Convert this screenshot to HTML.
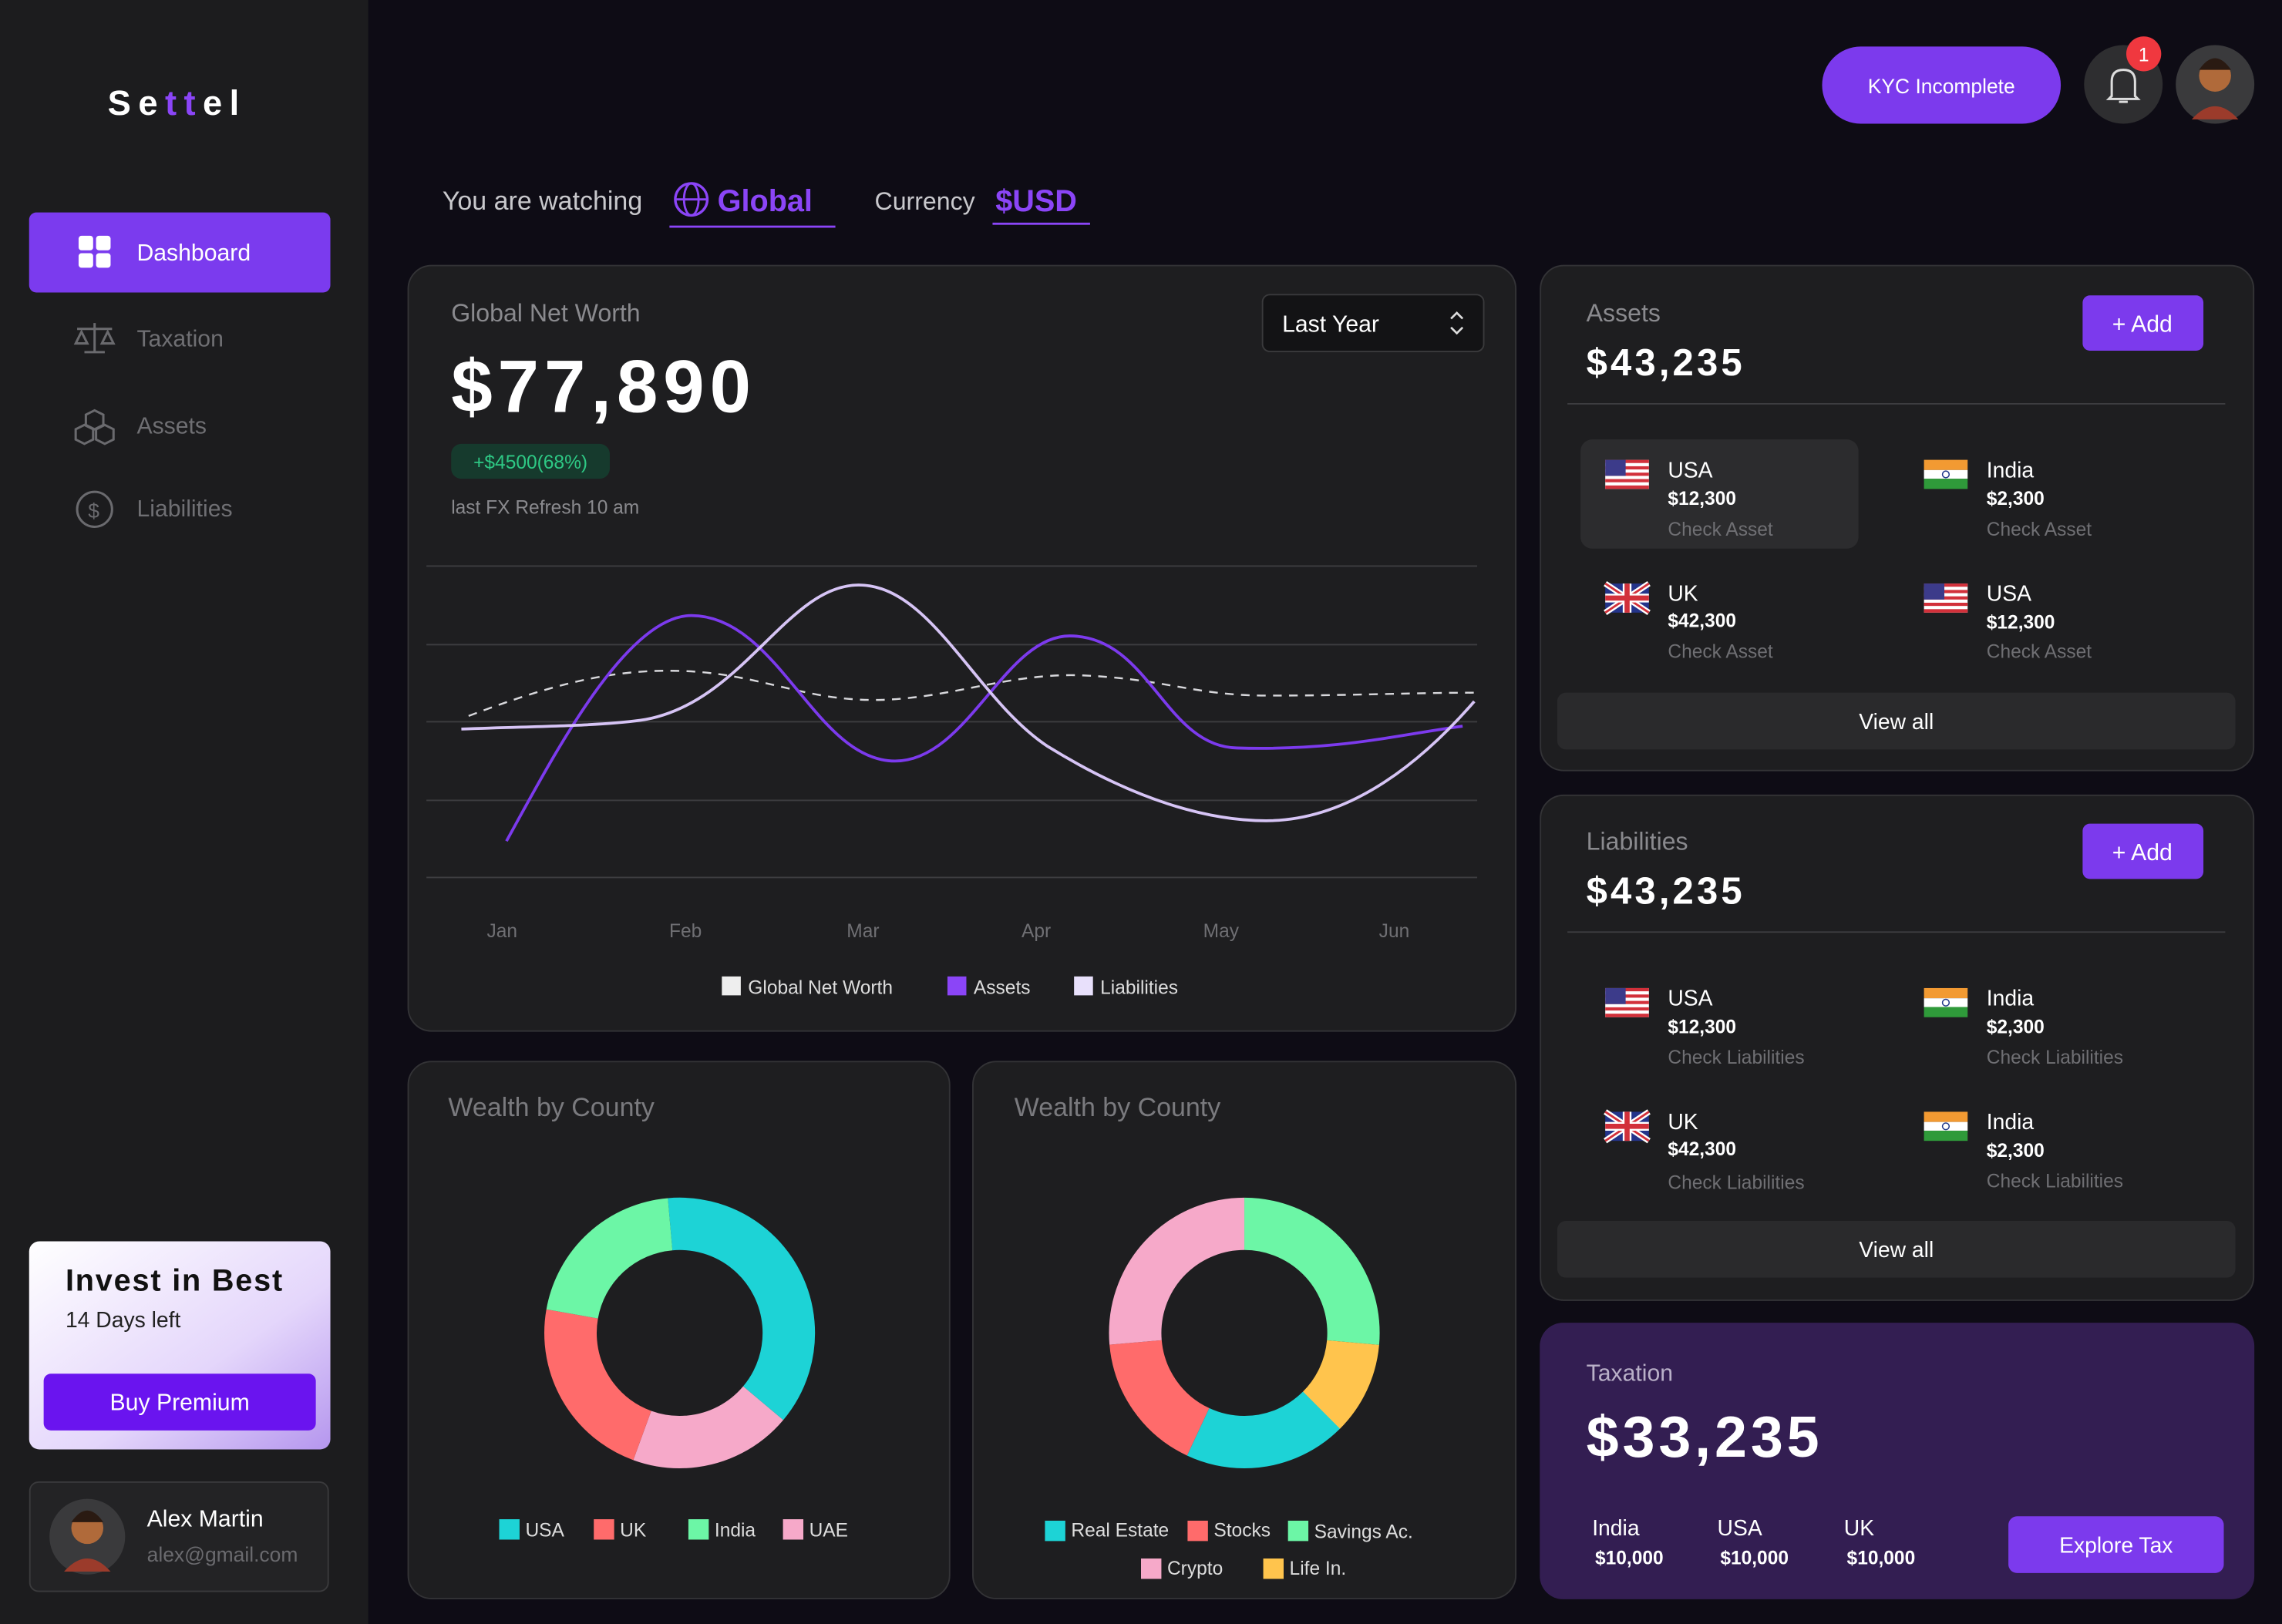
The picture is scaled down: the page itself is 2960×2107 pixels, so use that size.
<!DOCTYPE html>
<html><head><meta charset="utf-8"><style>
html,body{margin:0;padding:0;background:#0e0c15;}
svg{display:block;}
text{font-family:"Liberation Sans",sans-serif;}
</style></head><body>
<svg width="2960" height="2107" viewBox="0 0 1568 1116" preserveAspectRatio="none" xmlns="http://www.w3.org/2000/svg">
<defs>
<linearGradient id="inv" x1="0" y1="0" x2="1" y2="1"><stop offset="0" stop-color="#ffffff"/><stop offset="0.6" stop-color="#e4d6fb"/><stop offset="1" stop-color="#b596ee"/></linearGradient>
<g id="us"><rect width="30" height="20" fill="#fff"/><rect y="0" width="30" height="2.2" fill="#d2303a"/><rect y="4.4" width="30" height="2.2" fill="#d2303a"/><rect y="8.8" width="30" height="2.2" fill="#d2303a"/><rect y="13.2" width="30" height="2.2" fill="#d2303a"/><rect y="17.6" width="30" height="2.4" fill="#d2303a"/><rect width="14" height="11" fill="#3c3b8a"/></g>
<g id="in"><rect width="30" height="7" fill="#f29a32"/><rect y="7" width="30" height="6" fill="#fff"/><rect y="13" width="30" height="7" fill="#2f9a3a"/><circle cx="15" cy="10" r="2.3" fill="none" stroke="#233a8a" stroke-width="0.8"/></g>
<g id="uk"><rect width="30" height="20" fill="#24348a"/><path d="M0 0L30 20M30 0L0 20" stroke="#fff" stroke-width="4"/><path d="M0 0L30 20M30 0L0 20" stroke="#d2303a" stroke-width="1.5"/><path d="M15 0V20M0 10H30" stroke="#fff" stroke-width="6"/><path d="M15 0V20M0 10H30" stroke="#d2303a" stroke-width="3.5"/></g>
</defs>
<rect width="1568" height="1116" fill="#0e0c15"/>
<!-- sidebar -->
<rect width="253" height="1116" fill="#1c1c1e"/>
<text x="74" y="79" font-size="24" font-weight="bold" fill="#fff" letter-spacing="5">Se<tspan fill="#8b45f7">tt</tspan>el</text>
<rect x="20" y="146" width="207" height="55" rx="5" fill="#7b3bee"/>
<rect x="54" y="162" width="10" height="10" rx="2" fill="#fff"/><rect x="66" y="162" width="10" height="10" rx="2" fill="#fff"/><rect x="54" y="174" width="10" height="10" rx="2" fill="#fff"/><rect x="66" y="174" width="10" height="10" rx="2" fill="#fff"/>
<text x="94" y="179" font-size="16" fill="#fff">Dashboard</text>
<g fill="none" stroke="#6a6a6e" stroke-width="1.6">
<path d="M53 226H77M65 222V242M58 242H72M56 228L52 236H60ZM74 228L70 236H78Z"/>
<path d="M65 282L71 285V292L65 295L59 292V285ZM58 292L64 295V302L58 305L52 302V295ZM72 292L78 295V302L72 305L66 302V295Z"/>
<circle cx="65" cy="350" r="12"/>
</g>
<text x="60.5" y="356" font-size="14" fill="#6a6a6e">$</text>
<text x="94" y="238" font-size="16" fill="#6f6f73">Taxation</text>
<text x="94" y="298" font-size="16" fill="#6f6f73">Assets</text>
<text x="94" y="355" font-size="16" fill="#6f6f73">Liabilities</text>
<rect x="20" y="853" width="207" height="143" rx="7" fill="url(#inv)"/>
<text x="45" y="887" font-size="21" font-weight="bold" fill="#111" textLength="149">Invest in Best</text>
<text x="45" y="912" font-size="15" fill="#222">14 Days left</text>
<rect x="30" y="944" width="187" height="39" rx="5" fill="#6a14ef"/>
<text x="123.5" y="969" font-size="16" fill="#fff" text-anchor="middle">Buy Premium</text>
<rect x="20.5" y="1018.5" width="205" height="75" rx="6" fill="#232325" stroke="#3a3a3c"/>
<circle cx="60" cy="1056" r="26" fill="#3a3a3c"/><circle cx="60" cy="1050" r="11" fill="#b06a3a"/><path d="M49 1046Q60 1030 71 1046Z" fill="#2a1a12"/><path d="M44 1080Q60 1062 76 1080Z" fill="#9b3b2b"/>
<text x="101" y="1049" font-size="16" fill="#fff">Alex Martin</text>
<text x="101" y="1073" font-size="14" fill="#6a6a6e">alex@gmail.com</text>
<!-- top -->
<rect x="1252" y="32" width="164" height="53" rx="26.5" fill="#7c3aed"/>
<text x="1334" y="64" font-size="14" fill="#fff" text-anchor="middle">KYC Incomplete</text>
<circle cx="1459" cy="58" r="27" fill="#2e2e30"/>
<path d="M1451 66V56Q1451 48 1459 48Q1467 48 1467 56V66L1469 68H1449ZM1456 70H1462" fill="none" stroke="#ddd" stroke-width="1.6"/>
<circle cx="1473" cy="37" r="12" fill="#f0383f"/><text x="1473" y="42" font-size="13" fill="#fff" text-anchor="middle">1</text>
<circle cx="1522" cy="58" r="27" fill="#3a3a3c"/><circle cx="1522" cy="52" r="11" fill="#b06a3a"/><path d="M1511 48Q1522 32 1533 48Z" fill="#2a1a12"/><path d="M1506 82Q1522 64 1538 82Z" fill="#9b3b2b"/>
<text x="304" y="144" font-size="18" fill="#c8c8cc">You are watching</text>
<circle cx="475" cy="137" r="11" fill="none" stroke="#8b45f7" stroke-width="1.8"/><ellipse cx="475" cy="137" rx="5" ry="11" fill="none" stroke="#8b45f7" stroke-width="1.5"/><path d="M464 137H486" stroke="#8b45f7" stroke-width="1.5"/>
<text x="493" y="145" font-size="21" font-weight="bold" fill="#8b45f7">Global</text>
<rect x="460" y="155" width="114" height="1.5" fill="#8b45f7"/>
<text x="601" y="144" font-size="17" fill="#c8c8cc">Currency</text>
<text x="684" y="145" font-size="21" font-weight="bold" fill="#8b45f7">$USD</text>
<rect x="682" y="153" width="67" height="1.5" fill="#8b45f7"/>
<!-- main chart card -->
<rect x="280.5" y="182.5" width="761" height="526" rx="16" fill="#1e1e20" stroke="#333336"/>
<text x="310" y="221" font-size="17" fill="#8a8a8e">Global Net Worth</text>
<text x="310" y="283" font-size="51" font-weight="bold" fill="#fff" textLength="206">$77,890</text>
<rect x="310" y="305" width="109" height="24" rx="7" fill="#163a2d"/>
<text x="364.5" y="322" font-size="13" fill="#2ec985" text-anchor="middle">+$4500(68%)</text>
<text x="310" y="353" font-size="13" fill="#8a8a8e">last FX Refresh 10 am</text>
<rect x="867.5" y="202.5" width="152" height="39" rx="5" fill="#131315" stroke="#3a3a3c"/>
<text x="881" y="228" font-size="16" fill="#fff">Last Year</text>
<path d="M997 219L1001 215L1005 219M997 225L1001 229L1005 225" fill="none" stroke="#ddd" stroke-width="1.4"/>
<g stroke="#3d3d40" stroke-width="1"><path d="M293 389H1015M293 443H1015M293 496H1015M293 550H1015M293 603H1015"/></g>
<g font-size="13" fill="#6f6f73" text-anchor="middle"><text x="345" y="644">Jan</text><text x="471" y="644">Feb</text><text x="593" y="644">Mar</text><text x="712" y="644">Apr</text><text x="839" y="644">May</text><text x="958" y="644">Jun</text></g>
<path d="M322 492C380 470 420 460 465 461C520 462 550 481 600 481C650 481 690 463 740 464C800 466 820 478 870 478C930 478 970 476 1015 476" fill="none" stroke="#d8d8dc" stroke-width="1.3" stroke-dasharray="6 5"/>
<path d="M348 578C380 520 430 423 475 423C535 423 560 523 615 523C665 523 690 437 735 437C790 437 800 513 850 514C920 516 960 505 1005 499" fill="none" stroke="#7c3aed" stroke-width="2"/>
<path d="M317 501C370 499 410 499 440 495C510 485 540 402 590 402C640 402 670 480 720 513C780 550 830 564 870 564C930 564 980 520 1013 482" fill="none" stroke="#d6c4f5" stroke-width="2"/>
<rect x="496" y="671" width="13" height="13" fill="#eee"/><text x="514" y="683" font-size="13" fill="#ddd">Global Net Worth</text>
<rect x="651" y="671" width="13" height="13" fill="#8b45f7"/><text x="669" y="683" font-size="13" fill="#ddd">Assets</text>
<rect x="738" y="671" width="13" height="13" fill="#e8e0fb"/><text x="756" y="683" font-size="13" fill="#ddd">Liabilities</text>
<!-- donut cards -->
<rect x="280.5" y="729.5" width="372" height="369" rx="16" fill="#1e1e20" stroke="#333336"/>
<rect x="668.5" y="729.5" width="373" height="369" rx="16" fill="#1e1e20" stroke="#333336"/>
<text x="308" y="767" font-size="18" fill="#7a7a7e">Wealth by County</text>
<text x="697" y="767" font-size="18" fill="#7a7a7e">Wealth by County</text>
<g transform="rotate(-95 467 916)" fill="none" stroke-width="36">
<circle cx="467" cy="916" r="75" stroke="#1dd3d6" stroke-dasharray="176.7 500"/>
<circle cx="467" cy="916" r="75" stroke="#f6a9c9" stroke-dasharray="91.6 500" stroke-dashoffset="-176.7"/>
<circle cx="467" cy="916" r="75" stroke="#ff6b6b" stroke-dasharray="104.7 500" stroke-dashoffset="-268.3"/>
<circle cx="467" cy="916" r="75" stroke="#6cf6a6" stroke-dasharray="98.3 500" stroke-dashoffset="-373"/>
</g>
<g transform="rotate(-90 855 916)" fill="none" stroke-width="36">
<circle cx="855" cy="916" r="75" stroke="#6cf6a6" stroke-dasharray="124.4 500" stroke-dashoffset="0"/>
<circle cx="855" cy="916" r="75" stroke="#ffc44d" stroke-dasharray="52.4 500" stroke-dashoffset="-124.4"/>
<circle cx="855" cy="916" r="75" stroke="#1dd3d6" stroke-dasharray="91.6 500" stroke-dashoffset="-176.7"/>
<circle cx="855" cy="916" r="75" stroke="#ff6b6b" stroke-dasharray="78.5 500" stroke-dashoffset="-268.3"/>
<circle cx="855" cy="916" r="75" stroke="#f6a9c9" stroke-dasharray="124.5 500" stroke-dashoffset="-346.8"/>
</g>
<g font-size="13" fill="#ddd">
<rect x="343" y="1044" width="14" height="14" fill="#1dd3d6"/><text x="361" y="1056">USA</text>
<rect x="408" y="1044" width="14" height="14" fill="#ff6b6b"/><text x="426" y="1056">UK</text>
<rect x="473" y="1044" width="14" height="14" fill="#6cf6a6"/><text x="491" y="1056">India</text>
<rect x="538" y="1044" width="14" height="14" fill="#f6a9c9"/><text x="556" y="1056">UAE</text>
<rect x="718" y="1045" width="14" height="14" fill="#1dd3d6"/><text x="736" y="1056">Real Estate</text>
<rect x="816" y="1045" width="14" height="14" fill="#ff6b6b"/><text x="834" y="1056">Stocks</text>
<rect x="885" y="1045" width="14" height="14" fill="#6cf6a6"/><text x="903" y="1057">Savings Ac.</text>
<rect x="784" y="1071" width="14" height="14" fill="#f6a9c9"/><text x="802" y="1082">Crypto</text>
<rect x="868" y="1071" width="14" height="14" fill="#ffc44d"/><text x="886" y="1082">Life In.</text>
</g>
<!-- assets card -->
<rect x="1058.5" y="182.5" width="490" height="347" rx="16" fill="#1e1e20" stroke="#333336"/>
<text x="1090" y="221" font-size="17" fill="#8a8a8e">Assets</text>
<text x="1090" y="258" font-size="26" font-weight="bold" fill="#fff" textLength="107">$43,235</text>
<rect x="1431" y="203" width="83" height="38" rx="5" fill="#7c3aed"/>
<text x="1472" y="228" font-size="16" fill="#fff" text-anchor="middle">+ Add</text>
<rect x="1077" y="277" width="452" height="1" fill="#3d3d40"/>
<rect x="1086" y="302" width="191" height="75" rx="8" fill="#2c2c2e"/>
<use href="#us" x="1103" y="316"/><use href="#in" x="1322" y="316"/><use href="#uk" x="1103" y="401"/><use href="#us" x="1322" y="401"/>
<g font-size="15" fill="#fff"><text x="1146" y="328">USA</text><text x="1365" y="328">India</text><text x="1146" y="413">UK</text><text x="1365" y="413">USA</text></g>
<g font-size="13" font-weight="bold" fill="#fff"><text x="1146" y="347">$12,300</text><text x="1365" y="347">$2,300</text><text x="1146" y="431">$42,300</text><text x="1365" y="432">$12,300</text></g>
<g font-size="13" fill="#6f6f73"><text x="1146" y="368">Check Asset</text><text x="1365" y="368">Check Asset</text><text x="1146" y="452">Check Asset</text><text x="1365" y="452">Check Asset</text></g>
<rect x="1070" y="476" width="466" height="39" rx="6" fill="#2a2a2c"/>
<text x="1303" y="501" font-size="15" fill="#fff" text-anchor="middle">View all</text>
<!-- liabilities card -->
<rect x="1058.5" y="546.5" width="490" height="347" rx="16" fill="#1e1e20" stroke="#333336"/>
<text x="1090" y="584" font-size="17" fill="#8a8a8e">Liabilities</text>
<text x="1090" y="621" font-size="26" font-weight="bold" fill="#fff" textLength="107">$43,235</text>
<rect x="1431" y="566" width="83" height="38" rx="5" fill="#7c3aed"/>
<text x="1472" y="591" font-size="16" fill="#fff" text-anchor="middle">+ Add</text>
<rect x="1077" y="640" width="452" height="1" fill="#3d3d40"/>
<use href="#us" x="1103" y="679"/><use href="#in" x="1322" y="679"/><use href="#uk" x="1103" y="764"/><use href="#in" x="1322" y="764"/>
<g font-size="15" fill="#fff"><text x="1146" y="691">USA</text><text x="1365" y="691">India</text><text x="1146" y="776">UK</text><text x="1365" y="776">India</text></g>
<g font-size="13" font-weight="bold" fill="#fff"><text x="1146" y="710">$12,300</text><text x="1365" y="710">$2,300</text><text x="1146" y="794">$42,300</text><text x="1365" y="795">$2,300</text></g>
<g font-size="13" fill="#6f6f73"><text x="1146" y="731">Check Liabilities</text><text x="1365" y="731">Check Liabilities</text><text x="1146" y="817">Check Liabilities</text><text x="1365" y="816">Check Liabilities</text></g>
<rect x="1070" y="839" width="466" height="39" rx="6" fill="#2a2a2c"/>
<text x="1303" y="864" font-size="15" fill="#fff" text-anchor="middle">View all</text>
<!-- taxation -->
<rect x="1058" y="909" width="491" height="190" rx="16" fill="#331e52"/>
<text x="1090" y="949" font-size="16" fill="#b9b0c8">Taxation</text>
<text x="1090" y="1001" font-size="40" font-weight="bold" fill="#fff" textLength="160">$33,235</text>
<g font-size="15" fill="#fff"><text x="1094" y="1055">India</text><text x="1180" y="1055">USA</text><text x="1267" y="1055">UK</text></g>
<g font-size="13" font-weight="bold" fill="#fff"><text x="1096" y="1075">$10,000</text><text x="1182" y="1075">$10,000</text><text x="1269" y="1075">$10,000</text></g>
<rect x="1380" y="1042" width="148" height="39" rx="6" fill="#7c3aed"/>
<text x="1454" y="1067" font-size="15" fill="#fff" text-anchor="middle">Explore Tax</text>
</svg>
</body></html>
